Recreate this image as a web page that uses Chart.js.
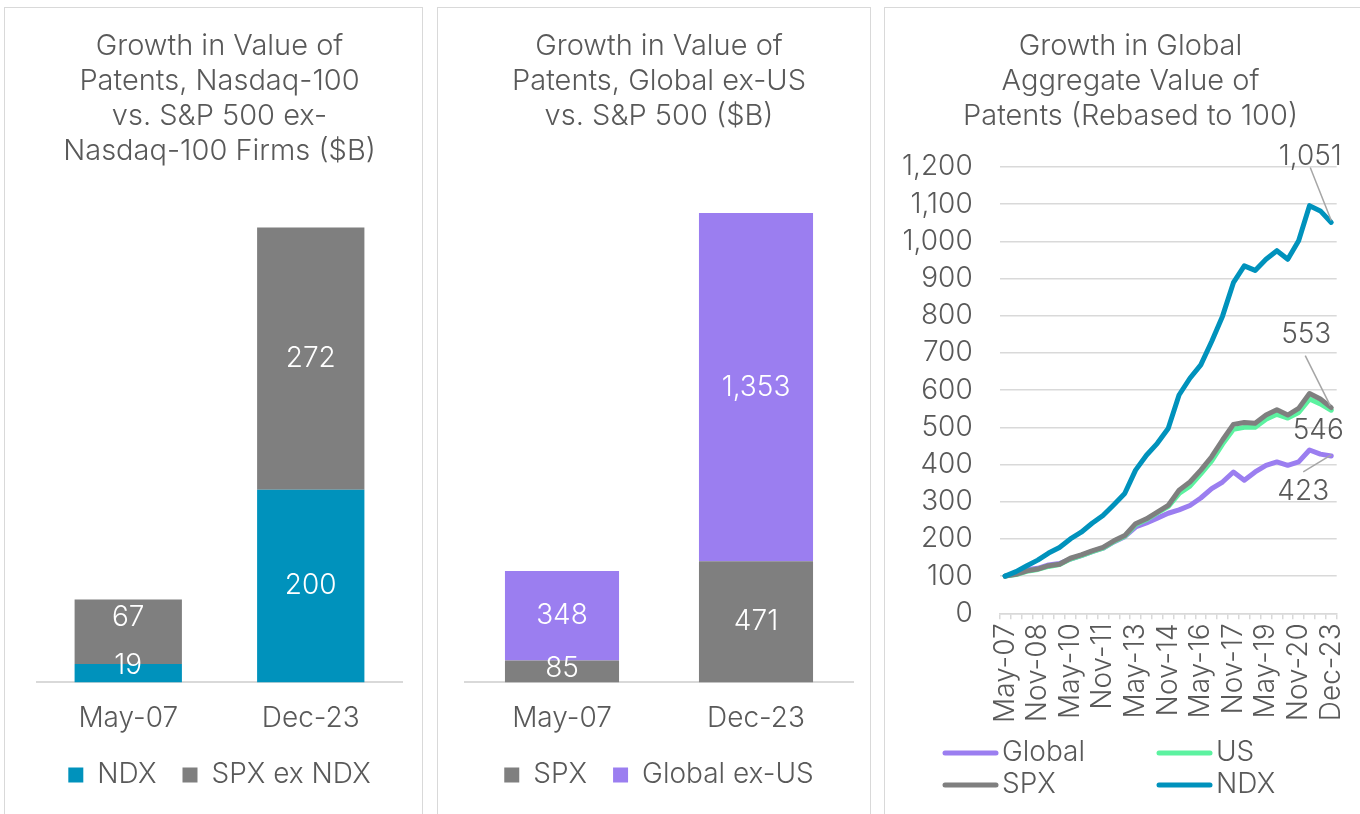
<!DOCTYPE html>
<html>
<head>
<meta charset="utf-8">
<script src="https://cdn.jsdelivr.net/npm/chart.js@4.4.1/dist/chart.umd.min.js"></script>
<style>
  html, body { margin: 0; padding: 0; background: #fff; }
  body { width: 1360px; height: 814px; position: relative; overflow: hidden; }
  .frame { position: absolute; border: 1.5px solid #d9d9d9; box-sizing: border-box; }
  .box { position: absolute; }
</style>
</head>
<body>
<div class="frame" style="left:4px;top:7px;width:419px;height:840px"></div>
<div class="frame" style="left:437px;top:7px;width:434px;height:840px"></div>
<div class="frame" style="left:884px;top:7px;width:500px;height:840px"></div>

<div class="box" style="left:4px;top:7px;width:418px;height:807px"><canvas id="ndxChart"></canvas></div>
<div class="box" style="left:437px;top:7px;width:433px;height:807px"><canvas id="globalChart"></canvas></div>
<div class="box" style="left:884px;top:7px;width:485px;height:807px"><canvas id="indexChart"></canvas></div>

<script>
"use strict";

// bar charts ($B)
const barCategories = ['May-07', 'Dec-23'];
const ndxValues = [19, 200];
const spxExNdxValues = [67, 272];
const spxValues = [85, 471];
const globalExUsValues = [348, 1353];

// rebased line chart
const lineLabels = ['May-07', 'Nov-07', 'May-08', 'Nov-08', 'May-09', 'Nov-09', 'May-10', 'Nov-10',
    'May-11', 'Nov-11', 'May-12', 'Nov-12', 'May-13', 'Nov-13', 'May-14', 'Nov-14', 'May-15', 'Nov-15',
    'May-16', 'Nov-16', 'May-17', 'Nov-17', 'May-18', 'Nov-18', 'May-19', 'Nov-19', 'May-20', 'Nov-20',
    'Nov-21', 'Dec-22', 'Dec-23'];
const globalIndex = [100, 107, 117, 121, 130, 134, 146, 155, 166, 175, 192, 206, 232, 243, 256, 269,
    278, 290, 310, 335, 353, 380, 358, 380, 398, 407, 398, 407, 439, 428, 423];
const usIndex = [100, 104, 113, 118, 126, 131, 146, 155, 166, 175, 193, 207, 238, 252, 270, 287,
    322, 342, 375, 410, 455, 495, 500, 500, 522, 535, 525, 540, 576, 563, 546];
const spxIndex = [100, 105, 114, 119, 128, 132, 148, 157, 168, 177, 195, 209, 241, 254, 272, 290,
    331, 353, 385, 421, 466, 508, 513, 511, 533, 547, 533, 551, 591, 576, 553];
const ndxIndex = [100, 112, 128, 143, 162, 177, 200, 218, 242, 263, 292, 322, 385, 425, 457, 497,
    587, 632, 668, 731, 799, 889, 934, 922, 952, 975, 952, 1002, 1096, 1082, 1051];

const textColor = '#595959';
const gridColor = '#d9d9d9';
const fontFamily = 'Inter, "Noto Sans", "DejaVu Sans", sans-serif';

Chart.defaults.font.family = fontFamily;
Chart.defaults.font.size = 28;
Chart.defaults.font.weight = '300';
Chart.defaults.color = textColor;
Chart.defaults.animation = false;

const fmt = v => v.toLocaleString('en-US');
// chart.js counts tick padding twice when sizing an axis, take one back off
const trimX = s => { s.height -= s.options.ticks.padding; };
const trimY = s => { s.width -= s.options.ticks.padding; };

// white value labels centred in each stacked segment
const barValueLabels = {
    id: 'barValueLabels',
    afterDatasetsDraw(chart) {
        const ctx = chart.ctx;
        ctx.save();
        ctx.fillStyle = '#ffffff';
        ctx.font = `300 28px ${fontFamily}`;
        ctx.textAlign = 'center';
        ctx.textBaseline = 'middle';
        chart.data.datasets.forEach((ds, i) => {
            const nudge = ds.labelNudge || [];
            chart.getDatasetMeta(i).data.forEach((bar, j) => {
                ctx.fillText(fmt(ds.data[j]), bar.x, (bar.y + bar.base) / 2 + (nudge[j] || 0));
            });
        });
        ctx.restore();
    }
};

// last-value labels with leader lines on the line chart
const endLabels = {
    id: 'endLabels',
    afterDatasetsDraw(chart) {
        const ctx = chart.ctx;
        ctx.save();
        ctx.font = `300 28px ${fontFamily}`;
        ctx.textAlign = 'center';
        ctx.textBaseline = 'middle';
        chart.data.datasets.forEach((ds, i) => {
            const pts = chart.getDatasetMeta(i).data;
            const p = pts[pts.length - 1];
            const lab = ds.endLabel;
            if (lab.lead) {
                ctx.strokeStyle = '#a6a6a6';
                ctx.lineWidth = 1.5;
                ctx.beginPath();
                ctx.moveTo(p.x + lab.lead[0], p.y + lab.lead[1]);
                ctx.lineTo(p.x + lab.lead[2], p.y + lab.lead[3]);
                ctx.stroke();
            }
            ctx.fillStyle = textColor;
            ctx.fillText(fmt(ds.data[ds.data.length - 1]), p.x + lab.dx, p.y + lab.dy);
        });
        ctx.restore();
    }
};

// two-column legend with line samples
const lineLegend = {
    id: 'lineLegend',
    afterDraw(chart) {
        const ctx = chart.ctx;
        const cols = [59, 273];
        const rows = [746, 778];
        chart.data.datasets.forEach((ds, i) => {
            const x = cols[i % 2], y = rows[Math.floor(i / 2)];
            ctx.save();
            ctx.strokeStyle = ds.borderColor;
            ctx.lineWidth = 5;
            ctx.lineCap = 'round';
            ctx.beginPath();
            ctx.moveTo(x + 2, y);
            ctx.lineTo(x + 53, y);
            ctx.stroke();
            ctx.fillStyle = textColor;
            ctx.font = `300 28px ${fontFamily}`;
            ctx.textAlign = 'left';
            ctx.textBaseline = 'middle';
            ctx.fillText(ds.label, x + 59, y);
            ctx.restore();
        });
    }
};

const titleFont = { size: 29, weight: '300', lineHeight: 35 / 29 };

function barOptions(titleLines, yMax, pad, catPct) {
    return {
        responsive: true,
        maintainAspectRatio: false,
        layout: { padding: pad },
        plugins: {
            title: {
                display: true,
                text: titleLines,
                color: textColor,
                font: titleFont,
                padding: { top: 22, bottom: 22 }
            },
            legend: {
                position: 'bottom',
                labels: { boxWidth: 15, boxHeight: 15, padding: 26, color: textColor }
            },
            tooltip: { enabled: false }
        },
        datasets: { bar: { categoryPercentage: catPct, barPercentage: 1 } },
        scales: {
            x: {
                stacked: true,
                grid: { display: false, drawTicks: false },
                border: { display: true, color: gridColor, width: 2 },
                ticks: { padding: 19, color: textColor },
                afterFit: trimX
            },
            y: { stacked: true, display: false, min: 0, max: yMax }
        }
    };
}

new Chart(document.getElementById('ndxChart'), {
    type: 'bar',
    data: {
        labels: barCategories,
        datasets: [
            { label: 'NDX', data: ndxValues, backgroundColor: '#0092bc', labelNudge: [-8, 0] },
            { label: 'SPX ex NDX', data: spxExNdxValues, backgroundColor: '#7f7f7f', labelNudge: [-14, 0] }
        ]
    },
    options: barOptions(['Growth in Value of', 'Patents, Nasdaq-100', 'vs. S&P 500 ex-', 'Nasdaq-100 Firms ($B)'],
        510, { left: 33, right: 20, top: 0, bottom: 15 }, 0.588),
    plugins: [barValueLabels]
});

new Chart(document.getElementById('globalChart'), {
    type: 'bar',
    data: {
        labels: barCategories,
        datasets: [
            { label: 'SPX', data: spxValues, backgroundColor: '#7f7f7f', labelNudge: [-3, 0] },
            { label: 'Global ex-US', data: globalExUsValues, backgroundColor: '#9b7ef0' }
        ]
    },
    options: barOptions(['Growth in Value of', 'Patents, Global ex-US', 'vs. S&P 500 ($B)'],
        2046, { left: 28, right: 17, top: 0, bottom: 15 }, 0.588),
    plugins: [barValueLabels]
});

new Chart(document.getElementById('indexChart'), {
    type: 'line',
    data: {
        labels: lineLabels,
        datasets: [
            { label: 'Global', data: globalIndex, borderColor: '#9b7ef0', order: 3,
              endLabel: { dx: -28, dy: 36, lead: [-28, 16, 0, -1] } },
            { label: 'US', data: usIndex, borderColor: '#5cf2a0', order: 2,
              endLabel: { dx: -13, dy: 20 } },
            { label: 'SPX', data: spxIndex, borderColor: '#7f7f7f', order: 1,
              endLabel: { dx: -25, dy: -73, lead: [-26, -52, -1, -2] } },
            { label: 'NDX', data: ndxIndex, borderColor: '#0092bc', order: 0,
              endLabel: { dx: -21, dy: -66, lead: [-21, -55, 0, -2] } }
        ]
    },
    options: {
        responsive: true,
        maintainAspectRatio: false,
        layout: { padding: { left: 18, right: 10, top: 0, bottom: 91 } },
        elements: {
            line: { borderWidth: 5, tension: 0, borderCapStyle: 'round', borderJoinStyle: 'round' },
            point: { radius: 0 }
        },
        plugins: {
            title: {
                display: true,
                text: ['Growth in Global', 'Aggregate Value of', 'Patents (Rebased to 100)'],
                color: textColor,
                font: titleFont,
                padding: { top: 22, bottom: 33 }
            },
            legend: { display: false },
            tooltip: { enabled: false }
        },
        scales: {
            x: {
                offset: true,
                grid: { display: true, drawOnChartArea: false, offset: true, tickLength: 6, color: gridColor, lineWidth: 1.5 },
                border: { display: true, color: gridColor, width: 1.5 },
                ticks: {
                    autoSkip: false,
                    minRotation: 90,
                    maxRotation: 90,
                    padding: 4,
                    color: textColor,
                    callback: function (value, index) {
                        return index % 3 === 0 ? this.getLabelForValue(value) : '';
                    }
                },
                afterFit: trimX
            },
            y: {
                min: 0,
                max: 1200,
                grid: { color: gridColor, lineWidth: 1.5, drawTicks: false },
                border: { display: false },
                ticks: { stepSize: 100, padding: 27, color: textColor, callback: v => fmt(v) },
                afterFit: trimY
            }
        }
    },
    plugins: [endLabels, lineLegend]
});
</script>
</body>
</html>
